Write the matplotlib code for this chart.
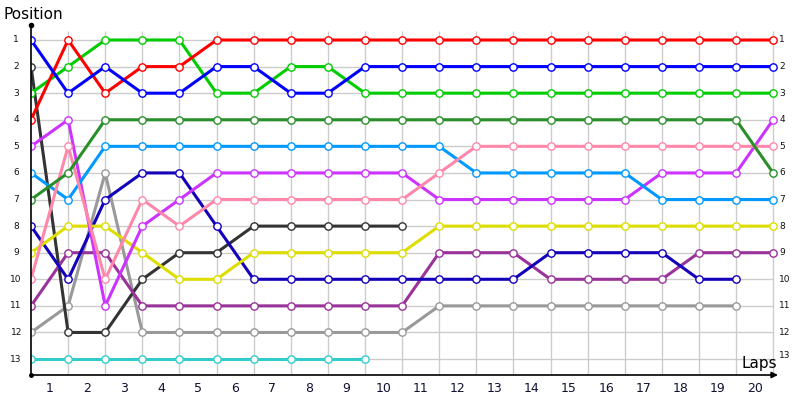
import matplotlib

matplotlib.use("Agg")
import matplotlib.pyplot as plt

laps = list(range(0, 21))
lap_labels = [str(i) for i in range(1, 21)]
positions = list(range(1, 14))

# position per lap (lap 0 = grid); shorter lists = retired
cyan = [13, 13, 13, 13, 13, 13, 13, 13, 13, 13]
gray = [12, 11, 6, 12, 12, 12, 12, 12, 12, 12, 12, 11, 11, 11, 11, 11, 11, 11, 11, 11]
black = [2, 12, 12, 10, 9, 9, 8, 8, 8, 8, 8]
purple = [11, 9, 9, 11, 11, 11, 11, 11, 11, 11, 11, 9, 9, 9, 10, 10, 10, 10, 9, 9, 9]
navy = [8, 10, 7, 6, 6, 8, 10, 10, 10, 10, 10, 10, 10, 10, 9, 9, 9, 9, 10, 10]
yellow = [9, 8, 8, 9, 10, 10, 9, 9, 9, 9, 9, 8, 8, 8, 8, 8, 8, 8, 8, 8, 8]
magenta = [5, 4, 11, 8, 7, 6, 6, 6, 6, 6, 6, 7, 7, 7, 7, 7, 7, 6, 6, 6, 4]
light_blue = [6, 7, 5, 5, 5, 5, 5, 5, 5, 5, 5, 5, 6, 6, 6, 6, 6, 7, 7, 7, 7]
pink = [10, 5, 10, 7, 8, 7, 7, 7, 7, 7, 7, 6, 5, 5, 5, 5, 5, 5, 5, 5, 5]
dark_green = [7, 6, 4, 4, 4, 4, 4, 4, 4, 4, 4, 4, 4, 4, 4, 4, 4, 4, 4, 4, 6]
green = [3, 2, 1, 1, 1, 3, 3, 2, 2, 3, 3, 3, 3, 3, 3, 3, 3, 3, 3, 3, 3]
red = [4, 1, 3, 2, 2, 1, 1, 1, 1, 1, 1, 1, 1, 1, 1, 1, 1, 1, 1, 1, 1]
blue = [1, 3, 2, 3, 3, 2, 2, 3, 3, 2, 2, 2, 2, 2, 2, 2, 2, 2, 2, 2, 2]

series = [
    (cyan, "#33cccc"),
    (gray, "#999999"),
    (black, "#333333"),
    (purple, "#993399"),
    (navy, "#1400bb"),
    (yellow, "#dddd00"),
    (magenta, "#cc33ff"),
    (light_blue, "#0099ff"),
    (pink, "#ff88aa"),
    (dark_green, "#2a8f2a"),
    (green, "#00cc00"),
    (red, "#ff0000"),
    (blue, "#0000ff"),
]

X_MAX = 20.13
Y_BOTTOM = 13.6
Y_TOP = 0.436


def main() -> None:
    fig = plt.figure(figsize=(8, 4), dpi=100)
    ax = fig.add_axes([31 / 800, 25 / 400, (778 - 31) / 800, 350 / 400])
    ax.set_xlim(0, X_MAX)
    ax.set_ylim(Y_BOTTOM, Y_TOP)
    ax.axis("off")

    # grid
    ax.vlines(laps[1:], 0.66, Y_BOTTOM, color="#cccccc", lw=1, zorder=1)
    ax.hlines(positions, 0, laps[-1], color="#cccccc", lw=1, zorder=1)

    for values, color in series:
        ax.plot(laps[:len(values)], values, color=color, lw=2.2,
                marker="o", ms=5.3, mfc="white", mec=color, mew=1.0,
                solid_joinstyle="round", zorder=3)

    # axes lines
    ax.plot([0, 0], [Y_BOTTOM, Y_TOP], color="black", lw=1.2,
            clip_on=False, zorder=4)
    ax.plot([0], [Y_TOP], marker="o", ms=3, color="black", clip_on=False, zorder=4)
    ax.plot([0], [Y_BOTTOM], marker="o", ms=2.5, color="black", clip_on=False, zorder=4)
    ax.annotate("", xy=(X_MAX, Y_BOTTOM), xytext=(0, Y_BOTTOM),
                arrowprops=dict(arrowstyle="-|>", color="black", lw=1.2,
                                mutation_scale=9, shrinkA=0, shrinkB=0),
                annotation_clip=False, zorder=4)

    # tick labels
    for i, label in enumerate(lap_labels):
        ax.text(i + 0.5, 14.1, label, ha="center", va="center",
                fontsize=9, color="#111133")
    for p in positions:
        ax.text(-0.4, p, str(p), ha="center", va="center",
                fontsize=6.5, color="#111111")
        ax.text(20.16, p - (0.15 if p == 13 else 0), str(p), ha="left",
                va="center", fontsize=6.5, color="#111111")

    ax.text(-0.75, 0.05, "Position", ha="left", va="center", fontsize=11)
    ax.text(19.15, 13.17, "Laps", ha="left", va="center", fontsize=11)

    fig.savefig("out.png", dpi=100)


if __name__ == "__main__":
    main()
